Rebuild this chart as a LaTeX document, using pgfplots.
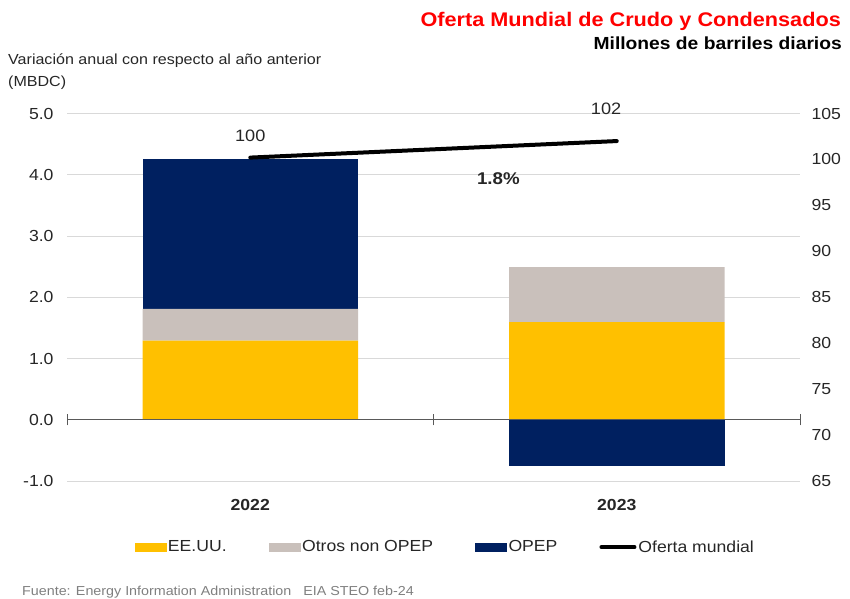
\documentclass[border=0pt]{standalone}
\usepackage{fontspec}
\setmainfont[FakeStretch=1.1]{Liberation Sans}
\usepackage{pgfplots}
\pgfplotsset{compat=1.18}
\definecolor{cYellow}{HTML}{FFC000}
\definecolor{cGray}{HTML}{C9C0BB}
\definecolor{cNavy}{HTML}{002060}
\definecolor{cGrid}{HTML}{D9D9D9}
\definecolor{cAxis}{HTML}{595959}
\definecolor{cText}{HTML}{262626}
\definecolor{cFoot}{HTML}{7F7F7F}
\newcommand{\fs}[1]{\fontsize{#1}{#1}\selectfont}
\begin{document}
\begin{tikzpicture}
\useasboundingbox (0,0) rectangle (850pt,598pt);
\pgfplotsset{
  base/.style={at={(67pt,117pt)}, anchor=south west, scale only axis,
    width=733pt, height=367.5pt, xmin=-0.5, xmax=1.5, clip=false,
    /pgf/number format/assume math mode=true,
    tick label style={font=\fs{16}, text=cText},
  }
}
% Bars (positive stack)
\begin{axis}[base, ymin=-1, ymax=5, ytick={-1,0,...,5},
  ybar stacked, bar width=0.588,
  xtick={0,1}, xticklabels={2022,2023},
  xticklabel style={font=\fs{16}\bfseries, yshift=-15pt},
  yticklabel style={/pgf/number format/fixed, /pgf/number format/fixed zerofill, /pgf/number format/precision=1, xshift=-10pt},
  axis line style={draw=none}, major tick length=0pt, tick style={draw=none},
  ymajorgrids, grid style={cGrid, line width=0.9pt},
]
\addplot[fill=cYellow, draw=none] coordinates {(0,1.29) (1,1.595)};
\addplot[fill=cGray, draw=none] coordinates {(0,0.52) (1,0.895)};
\addplot[fill=cNavy, draw=none] coordinates {(0,2.45) (1,0)};
\end{axis}
% Negative OPEP bar + zero axis
\begin{axis}[base, ymin=-1, ymax=5, hide axis, ybar, bar width=0.588]
\addplot[fill=cNavy, draw=none] coordinates {(1,-0.76)};
\draw[cAxis, line width=1pt] (axis cs:-0.5,0) -- (axis cs:1.5,0);
\pgfplotsinvokeforeach{-0.5,0.5,1.5}{
  \draw[cAxis, line width=0.9pt] ([yshift=-5.5pt]axis cs:#1,0) -- ([yshift=5.5pt]axis cs:#1,0);
}
\node[font=\fs{17}\bfseries, text=cText, anchor=base, inner sep=0pt] at (axis cs:0.677,3.84) {1.8\%};
\end{axis}
% Right axis: world supply line
\begin{axis}[base, ymin=65, ymax=105, ytick={65,70,...,105},
  hide x axis, axis y line*=right, axis line style={draw=none},
  tick style={draw=none}, major tick length=0pt,
  yticklabel style={xshift=8pt},
  legend style={at={(0.516,-0.18)}, anchor=center, draw=none, fill=none,
    legend columns=4, font=\fs{16}, text=cText,
    /tikz/every even column/.append style={column sep=40pt}},
  legend cell align=left,
]
\addlegendimage{legend image code/.code={\fill[cYellow] (0pt,-4.2pt) rectangle (31pt,4.2pt);}}
\addlegendentry{EE.UU.}
\addlegendimage{legend image code/.code={\fill[cGray] (0pt,-4.2pt) rectangle (31pt,4.2pt);}}
\addlegendentry{Otros non OPEP}
\addlegendimage{legend image code/.code={\fill[cNavy] (0pt,-4.2pt) rectangle (31pt,4.2pt);}}
\addlegendentry{OPEP}
\addplot[black, line width=4pt, line cap=round,
  legend image code/.code={\draw[black, line width=4pt] (0pt,0pt) -- (33pt,0pt);}]
  coordinates {(0,100.2) (1,102.0)};
\addlegendentry{Oferta mundial}
\node[anchor=base, font=\fs{16.5}, text=cText, inner sep=0pt] at (axis cs:0,102.0) {100};
\node[anchor=base, font=\fs{16.5}, text=cText, inner sep=0pt] at (axis cs:0.971,104.9) {102};
\end{axis}
% Texts
\node[anchor=base east, inner sep=0pt, font=\fs{19.7}\bfseries, text=red] at (841pt,571.5pt) {Oferta Mundial de Crudo y Condensados};
\node[anchor=base east, inner sep=0pt, font=\fs{17.5}\bfseries, text=black] at (842pt,548.5pt) {Millones de barriles diarios};
\node[anchor=base west, inner sep=0pt, font=\fs{14.6}, text=cText] at (8pt,533pt) {Variación anual con respecto al año anterior};
\node[anchor=base west, inner sep=0pt, font=\fs{14.6}, text=cText] at (8pt,511pt) {(MBDC)};
\node[anchor=base west, inner sep=0pt, font=\fs{13}, text=cFoot] at (22pt,3pt) {Fuente: Energy Information Administration\ \ \ EIA STEO feb-24};
\end{tikzpicture}
\end{document}
